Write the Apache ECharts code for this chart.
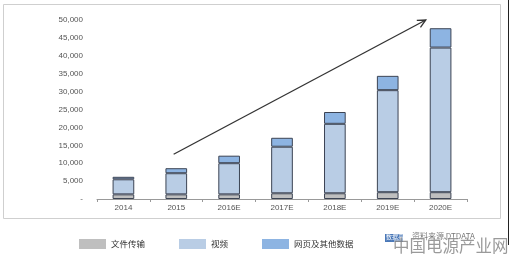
<!DOCTYPE html>
<html>
<head>
<meta charset="utf-8">
<script src="https://cdn.jsdelivr.net/npm/echarts@6/dist/echarts.min.js"></script>
<style>html,body{margin:0;padding:0;background:#fff;}#c{width:515px;height:262px;}</style>
</head>
<body>
<div id="c"></div>
<script>
var categories = ['2014', '2015', '2016E', '2017E', '2018E', '2019E', '2020E'];
var fileTransfer = [1300, 1300, 1300, 1600, 1600, 1900, 1900];
var video = [4200, 5900, 8700, 13000, 19400, 28500, 40400];
var webOther = [700, 1400, 2100, 2500, 3300, 4000, 5400];
var seriesNames = ['文件传输', '视频', '网页及其他数据'];
var arrowStart = [0.95, 12500];
var arrowEnd = [5.72, 50000];

var chart = echarts.init(document.getElementById('c'));
var colors = ['#bfbfbf', '#b9cde5', '#8db4e2'];
function mk(name, data, i) {
  return {
    name: name, type: 'bar', stack: 'total', data: data, barWidth: '41%',
    itemStyle: { color: colors[i], borderColor: '#3c4454', borderWidth: 1 }
  };
}
chart.setOption({
  animation: false,
  grid: { left: 97, right: 48, top: 20, bottom: 63 },
  legend: {
    left: 74, top: 234, itemWidth: 27, itemHeight: 10, itemGap: 34,
    icon: 'rect',
    itemStyle: { borderWidth: 0 },
    textStyle: { fontFamily: 'Noto Sans CJK SC', fontSize: 8.5, color: '#333' },
    data: seriesNames
  },
  xAxis: {
    type: 'category', data: categories,
    axisLine: { lineStyle: { color: '#999' } },
    axisTick: { show: true, length: 3, lineStyle: { color: '#999' } },
    axisLabel: { fontFamily: 'Liberation Sans', fontSize: 8, color: '#555', margin: 5 }
  },
  yAxis: {
    type: 'value', min: 0, max: 50000, interval: 5000,
    axisLine: { show: false }, axisTick: { show: false }, splitLine: { show: false },
    axisLabel: {
      fontFamily: 'Liberation Sans', fontSize: 8, color: '#555', margin: 14,
      formatter: function (v) { return v === 0 ? '-' : v.toLocaleString('en-US'); }
    }
  },
  series: [mk(seriesNames[0], fileTransfer, 0), mk(seriesNames[1], video, 1), mk(seriesNames[2], webOther, 2)]
});

function toPx(p) {
  var x0 = chart.convertToPixel({ xAxisIndex: 0 }, categories[0]);
  var x1 = chart.convertToPixel({ xAxisIndex: 0 }, categories[1]);
  var x = x0 + (x1 - x0) * p[0];
  var y = chart.convertToPixel({ yAxisIndex: 0 }, p[1]);
  return [x, y];
}
var a = toPx(arrowStart), b = toPx(arrowEnd);
var ang = Math.atan2(b[1] - a[1], b[0] - a[0]);
var hl = 9, ha = 0.45;
var h1 = [b[0] - hl * Math.cos(ang - ha), b[1] - hl * Math.sin(ang - ha)];
var h2 = [b[0] - hl * Math.cos(ang + ha), b[1] - hl * Math.sin(ang + ha)];

chart.setOption({
  graphic: [
    { type: 'rect', shape: { x: 3.5, y: 4.5, width: 497, height: 214 }, style: { fill: 'none', stroke: '#cfcfcf', lineWidth: 1 }, silent: true, z: 0 },
    { type: 'line', shape: { x1: 508.5, y1: 0, x2: 508.5, y2: 245 }, style: { stroke: '#222', lineWidth: 1 }, silent: true },
    { type: 'line', shape: { x1: a[0], y1: a[1], x2: b[0], y2: b[1] }, style: { stroke: '#333', lineWidth: 1.3 }, z: 10 },
    { type: 'polyline', shape: { points: [h1, b, h2] }, style: { stroke: '#333', lineWidth: 1.3, fill: 'none' }, z: 10 },
    { type: 'rect', shape: { x: 385, y: 234, width: 18, height: 8 }, style: { fill: '#4a78b8' }, z: 10 },
    { type: 'text', x: 386, y: 234, style: { text: '数据来', fill: '#fff', fontSize: 6, fontFamily: 'Noto Sans CJK SC' }, z: 11 },
    { type: 'text', x: 412, y: 232, style: { text: '资料来源 DTDATA', fill: '#777', fontSize: 8, fontFamily: 'Noto Sans CJK SC' }, z: 11 },
    { type: 'text', x: 393, y: 237, style: { text: '中国电源产业网', fill: 'rgba(120,120,120,0.75)', fontSize: 16.5, fontFamily: 'Noto Sans CJK SC', stroke: 'rgba(255,255,255,0.6)', lineWidth: 1 }, z: 12 }
  ]
});
</script>
</body>
</html>
